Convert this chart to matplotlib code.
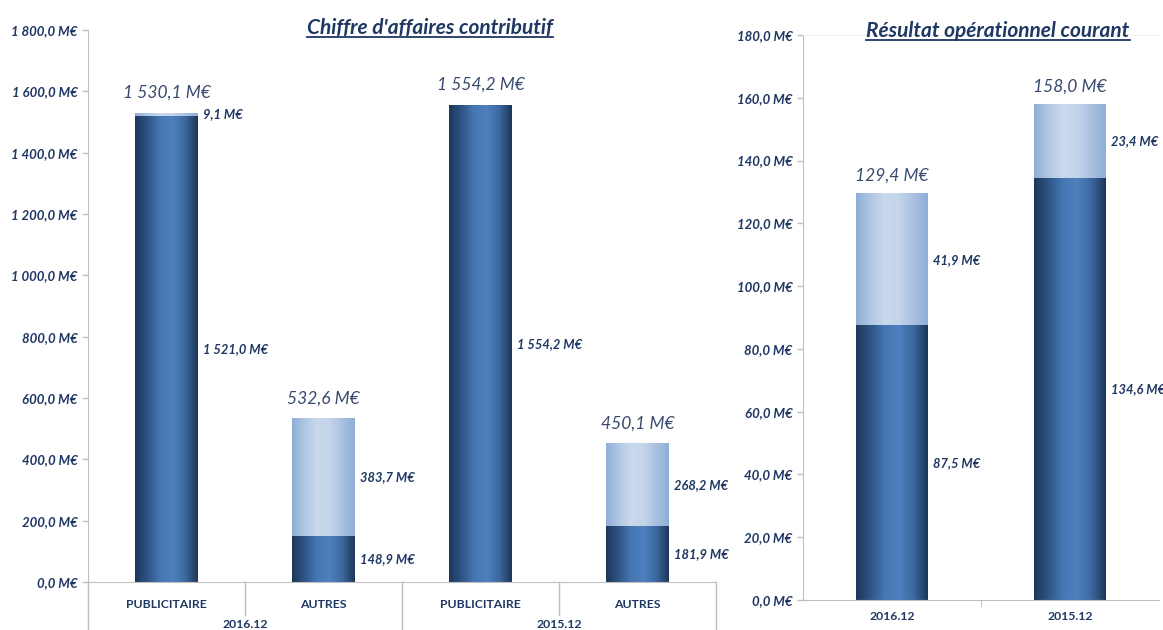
import matplotlib
matplotlib.use("Agg")
import matplotlib.pyplot as plt
import numpy as np
from matplotlib.colors import LinearSegmentedColormap
from matplotlib.lines import Line2D
from matplotlib.ticker import FuncFormatter

# ---------------- data ----------------
ca_groups = ["2016.12", "2015.12"]
ca_categories = ["PUBLICITAIRE", "AUTRES", "PUBLICITAIRE", "AUTRES"]
ca_bottom = [1521.0, 148.9, 1554.2, 181.9]
ca_top = [9.1, 383.7, 0.0, 268.2]
ca_totals = [1530.1, 532.6, 1554.2, 450.1]

roc_categories = ["2016.12", "2015.12"]
roc_bottom = [87.5, 134.6]
roc_top = [41.9, 23.4]
roc_totals = [129.4, 158.0]

plt.rcParams['font.family'] = ['Lato', 'DejaVu Sans']
NAVY = "#1f3763"
TOTC = "#3a4a6e"
AXC = "#bfbfbf"

dark_cmap = LinearSegmentedColormap.from_list(
    "dk", ["#1d3658", "#2f5486", "#4677b3", "#4e80bf", "#3c689e", "#1d3658"])
light_cmap = LinearSegmentedColormap.from_list(
    "lt", ["#8eaed6", "#b0c7e3", "#cad9eb", "#c4d5ea", "#a9c1e0", "#8eaed6"])

TICK_FS = 9.5
SEG_FS = 9.3


def fmt(v, pos=None):
    s = f"{v:,.1f}".replace(",", " ").replace(".", ",")
    return s + " M€"


def gradient_bars(ax, bars, cmap):
    grad = np.linspace(0, 1, 256).reshape(1, -1)
    for b in bars:
        x, y = b.get_x(), b.get_y()
        w, h = b.get_width(), b.get_height()
        if h <= 0:
            continue
        b.set_alpha(0)
        ax.imshow(grad, cmap=cmap, extent=[x, x + w, y, y + h],
                  aspect='auto', zorder=2, interpolation='bilinear')


def style_axes(ax, ymax, step):
    ax.set_ylim(0, ymax)
    ax.set_yticks(np.arange(0, ymax + step / 2, step))
    ax.yaxis.set_major_formatter(FuncFormatter(fmt))
    for s in ["top", "right"]:
        ax.spines[s].set_visible(False)
    ax.spines["left"].set_color(AXC)
    ax.spines["bottom"].set_color(AXC)
    ax.tick_params(axis='y', colors=AXC, length=4, width=1, labelcolor=NAVY)
    for lab in ax.get_yticklabels():
        lab.set_fontsize(TICK_FS)
        lab.set_fontweight('bold')
        lab.set_fontstyle('italic')


fig = plt.figure(figsize=(11.63, 6.30), dpi=100)

# ---------------- left chart ----------------
ax1 = fig.add_axes([88 / 1163, 1 - 582 / 630, (716 - 88) / 1163, (582 - 30) / 630])
x1 = np.arange(len(ca_categories))
w = 0.4
b1 = ax1.bar(x1, ca_bottom, w, color="#3f6ba3", zorder=2)
b2 = ax1.bar(x1, ca_top, w, bottom=ca_bottom, color="#b0c7e3", zorder=2)
gradient_bars(ax1, b1, dark_cmap)
gradient_bars(ax1, b2, light_cmap)
ax1.set_xlim(-0.5, len(ca_categories) - 0.5)
style_axes(ax1, 1800, 200)
ax1.set_xticks(x1)
ax1.set_xticklabels(ca_categories, fontsize=8.8, fontweight='bold', color=NAVY)
ax1.tick_params(axis='x', length=0, pad=12)

for i in range(len(ca_categories)):
    ax1.annotate(fmt(ca_bottom[i]), (x1[i] + w / 2, ca_bottom[i] / 2),
                 xytext=(4, 0), textcoords='offset points', ha='left', va='center',
                 fontsize=SEG_FS, fontweight='bold', fontstyle='italic', color=NAVY)
    if ca_top[i] > 0:
        ax1.annotate(fmt(ca_top[i]), (x1[i] + w / 2, ca_bottom[i] + ca_top[i] / 2),
                     xytext=(4, 0), textcoords='offset points', ha='left', va='center',
                     fontsize=SEG_FS, fontweight='bold', fontstyle='italic', color=NAVY)
    ax1.annotate(fmt(ca_totals[i]), (x1[i], ca_totals[i]),
                 xytext=(0, 9), textcoords='offset points', ha='center', va='bottom',
                 fontsize=12.5, fontstyle='italic', color=TOTC)

# hierarchical x-axis separators and group labels
trans = ax1.get_xaxis_transform()
h_ax = (582 - 30)
inner_depth = -33 / h_ax
outer_depth = -50 / h_ax
for k in range(len(ca_categories) + 1):
    xs = k - 0.5
    depth = outer_depth if k % 2 == 0 else inner_depth
    ax1.add_line(Line2D([xs, xs], [0, depth], transform=trans, color=AXC,
                        lw=1, clip_on=False))
for g, name in enumerate(ca_groups):
    ax1.text(2 * g + 0.5, -43 / h_ax, name, transform=trans, ha='center', va='center',
             fontsize=8.8, fontweight='bold', color=NAVY)

# ---------------- right chart ----------------
ax2 = fig.add_axes([803 / 1163, 1 - 600 / 630, (1159 - 803) / 1163, (600 - 35) / 630])
x2 = np.arange(len(roc_categories))
c1 = ax2.bar(x2, roc_bottom, w, color="#3f6ba3", zorder=2)
c2 = ax2.bar(x2, roc_top, w, bottom=roc_bottom, color="#b0c7e3", zorder=2)
gradient_bars(ax2, c1, dark_cmap)
gradient_bars(ax2, c2, light_cmap)
ax2.set_xlim(-0.5, len(roc_categories) - 0.5)
style_axes(ax2, 180, 20)
ax2.set_xticks(x2)
ax2.set_xticklabels(roc_categories, fontsize=8.8, fontweight='bold', color=NAVY)
ax2.set_xticks([0.5], minor=True)
ax2.tick_params(axis='x', which='major', length=0, pad=8)
ax2.tick_params(axis='x', which='minor', length=5, color=AXC)
ax2.spines["top"].set_visible(True)
ax2.spines["top"].set_color("#f0f0f0")

for i in range(len(roc_categories)):
    ax2.annotate(fmt(roc_bottom[i]), (x2[i] + w / 2, roc_bottom[i] / 2),
                 xytext=(4, 0), textcoords='offset points', ha='left', va='center',
                 fontsize=SEG_FS, fontweight='bold', fontstyle='italic', color=NAVY)
    ax2.annotate(fmt(roc_top[i]), (x2[i] + w / 2, roc_bottom[i] + roc_top[i] / 2),
                 xytext=(4, 0), textcoords='offset points', ha='left', va='center',
                 fontsize=SEG_FS, fontweight='bold', fontstyle='italic', color=NAVY)
    ax2.annotate(fmt(roc_totals[i]), (x2[i], roc_totals[i]),
                 xytext=(0, 7), textcoords='offset points', ha='center', va='bottom',
                 fontsize=12.5, fontstyle='italic', color=TOTC)

# ---------------- titles (underlined) ----------------
t1 = fig.text(430 / 1163, 1 - 28 / 630, "Chiffre d'affaires contributif", ha='center',
              va='center', fontsize=15, fontweight='bold', fontstyle='italic', color=NAVY)
t2 = fig.text(998 / 1163, 1 - 31 / 630, "Résultat opérationnel courant", ha='center',
              va='center', fontsize=15, fontweight='bold', fontstyle='italic', color=NAVY)
fig.canvas.draw()
r = fig.canvas.get_renderer()
for t in (t1, t2):
    bb = t.get_window_extent(r)
    yb = (bb.y0 + 1) / fig.bbox.height
    fig.add_artist(Line2D([bb.x0 / fig.bbox.width, bb.x1 / fig.bbox.width], [yb, yb],
                          color=NAVY, lw=1.3))

fig.savefig("out.png", dpi=100)
